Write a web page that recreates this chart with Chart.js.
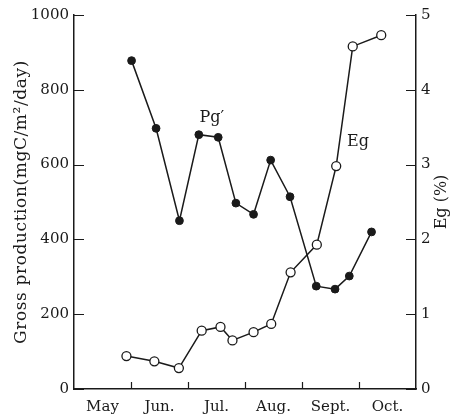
<!DOCTYPE html>
<html>
<head>
<meta charset="utf-8">
<script src="https://cdn.jsdelivr.net/npm/chart.js@4.4.1/dist/chart.umd.min.js"></script>
<style>
  html, body { margin: 0; padding: 0; background: #fff; }
  #wrap { width: 452px; height: 417px; position: relative; }
</style>
</head>
<body>
<div id="wrap"><canvas id="grafico"></canvas></div>
<script>
// months shown on the x axis (labels sit between the month ticks)
const months = ['May', 'Jun.', 'Jul.', 'Aug.', 'Sept.', 'Oct.'];

// sampling time, in months counted from 1 May
const pgTime = [1.01, 1.44, 1.85, 2.19, 2.53, 2.84, 3.15, 3.45, 3.79, 4.25, 4.58, 4.83, 5.22];
const pgValues = [878, 697, 450, 680, 673, 497, 467, 612, 514, 275, 267, 302, 420];

const egTime = [0.92, 1.41, 1.84, 2.24, 2.57, 2.78, 3.15, 3.46, 3.80, 4.26, 4.60, 4.89, 5.39];
const egValues = [0.44, 0.37, 0.28, 0.78, 0.83, 0.65, 0.76, 0.87, 1.56, 1.93, 2.98, 4.58, 4.73];

const leftTicks = [0, 200, 400, 600, 800, 1000];
const rightTicks = [0, 1, 2, 3, 4, 5];

const tinta = '#1a1a1a';
const fonte = 'DejaVu Serif';

const pares = (xs, ys) => xs.map((x, i) => ({ x: x, y: ys[i] }));

// inward tick marks, axis titles and curve labels
const extras = {
    id: 'extras',
    afterDraw(chart) {
        const ctx = chart.ctx;
        const a = chart.chartArea;
        const x = chart.scales.x, yl = chart.scales.y, yr = chart.scales.y2;
        ctx.save();
        ctx.strokeStyle = tinta;
        ctx.lineWidth = 1.2;
        ctx.beginPath();
        leftTicks.forEach(v => {
            const p = Math.round(yl.getPixelForValue(v)) + 0.5;
            ctx.moveTo(a.left, p); ctx.lineTo(a.left + 10, p);
        });
        rightTicks.forEach(v => {
            const p = Math.round(yr.getPixelForValue(v)) + 0.5;
            ctx.moveTo(a.right, p); ctx.lineTo(a.right - 10, p);
        });
        for (let m = 1; m < months.length; m++) {
            const p = Math.round(x.getPixelForValue(m)) + 0.5;
            ctx.moveTo(p, a.bottom); ctx.lineTo(p, a.bottom - 7);
        }
        ctx.stroke();

        ctx.fillStyle = tinta;
        const meio = (a.top + a.bottom) / 2;

        ctx.font = '17px "' + fonte + '"';
        ctx.letterSpacing = '0.6px';
        ctx.textAlign = 'center';
        ctx.textBaseline = 'alphabetic';
        ctx.save();
        ctx.translate(26, meio);
        ctx.rotate(-Math.PI / 2);
        ctx.fillText('Gross production(mgC/m\u00B2/day)', 0, 0);
        ctx.restore();

        ctx.letterSpacing = '0px';
        ctx.font = '16px "' + fonte + '"';
        ctx.save();
        ctx.translate(446, meio);
        ctx.rotate(-Math.PI / 2);
        ctx.fillText('Eg (%)', 0, 0);
        ctx.restore();

        ctx.textAlign = 'left';
        ctx.fillText('Pg\u2032', x.getPixelForValue(2.2), yl.getPixelForValue(715));
        ctx.fillText('Eg', x.getPixelForValue(4.79), yr.getPixelForValue(3.25));
        ctx.restore();
    }
};

new Chart(document.getElementById('grafico').getContext('2d'), {
    type: 'scatter',
    data: {
        datasets: [{
            label: "Pg'",
            data: pares(pgTime, pgValues),
            yAxisID: 'y',
            showLine: true,
            borderColor: tinta,
            borderWidth: 1.5,
            backgroundColor: tinta,
            pointRadius: 3.9,
            pointBorderWidth: 1,
            pointBorderColor: tinta,
            pointBackgroundColor: tinta
        }, {
            label: 'Eg',
            data: pares(egTime, egValues),
            yAxisID: 'y2',
            showLine: true,
            borderColor: tinta,
            borderWidth: 1.5,
            backgroundColor: '#fff',
            pointRadius: 4.5,
            pointBorderWidth: 1.3,
            pointBorderColor: tinta,
            pointBackgroundColor: '#fff'
        }]
    },
    options: {
        responsive: true,
        maintainAspectRatio: false,
        animation: false,
        layout: { padding: { top: 15, left: 0, right: 0, bottom: 0 } },
        plugins: { legend: { display: false }, tooltip: { enabled: false } },
        scales: {
            x: {
                type: 'linear',
                min: 0,
                max: months.length,
                afterFit: (s) => { s.height = 28; },
                grid: { display: false, drawTicks: false },
                border: { display: true, color: tinta, width: 1.5 },
                ticks: {
                    stepSize: 0.5,
                    autoSkip: false,
                    maxRotation: 0,
                    padding: 9,
                    color: tinta,
                    font: { family: fonte, size: 15 },
                    callback: (v) => (v % 1 === 0.5) ? months[Math.floor(v)] : ''
                }
            },
            y: {
                position: 'left',
                min: 0,
                max: 1000,
                afterFit: (s) => { s.width = 74; },
                grid: { display: false, drawTicks: false },
                border: { display: true, color: tinta, width: 1.5 },
                afterBuildTicks: (s) => { s.ticks = leftTicks.map(v => ({ value: v })); },
                ticks: {
                    padding: 5, color: tinta, font: { family: fonte, size: 15 },
                    callback: (v) => String(v)
                }
            },
            y2: {
                position: 'right',
                min: 0,
                max: 5,
                afterFit: (s) => { s.width = 36; },
                grid: { display: false, drawTicks: false },
                border: { display: true, color: tinta, width: 1.5 },
                afterBuildTicks: (s) => { s.ticks = rightTicks.map(v => ({ value: v })); },
                ticks: {
                    padding: 5, color: tinta, font: { family: fonte, size: 15 },
                    callback: (v) => String(v)
                }
            }
        }
    },
    plugins: [extras]
});
</script>
</body>
</html>
